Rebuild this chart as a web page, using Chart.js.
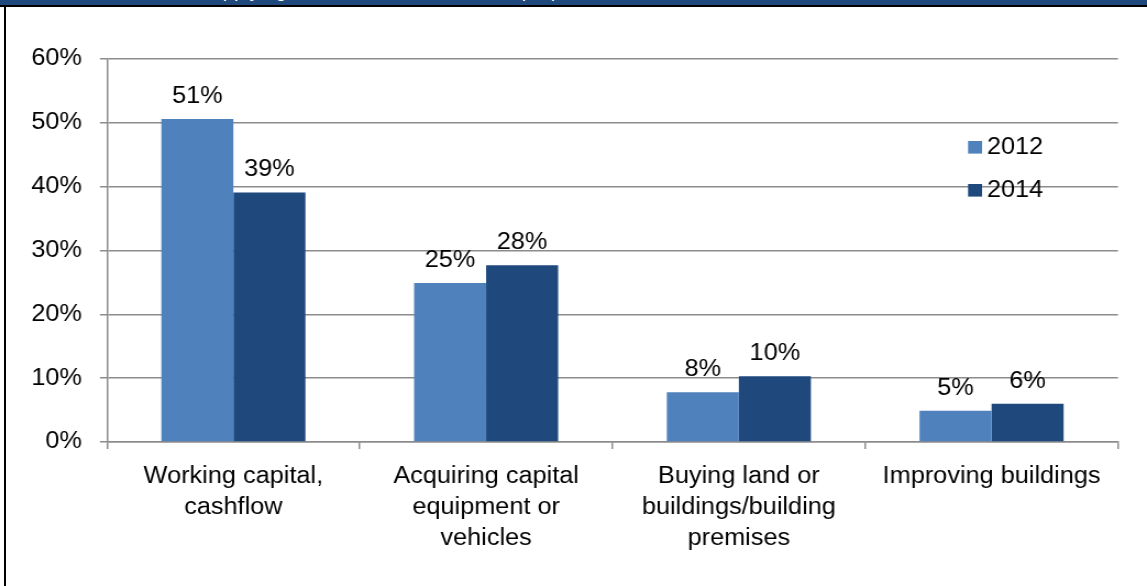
<!DOCTYPE html>
<html lang="en">
<head>
    <meta charset="UTF-8">
    <title>Purpose of finance</title>
    <script src="https://cdn.jsdelivr.net/npm/chart.js"></script>
    <style>
        body {
            margin: 0;
            padding: 0;
            background: #fff;
            width: 1147px;
            height: 586px;
            overflow: hidden;
            position: relative;
            font-family: "Liberation Sans", Arial, sans-serif;
        }

        /* title strip, mostly cut off at the top */
        .banner {
            position: absolute;
            left: 0;
            top: 0;
            width: 1147px;
            height: 5px;
            background: #1f497d;
            overflow: hidden;
            z-index: 2;
        }

        .banner span {
            position: absolute;
            left: 100px;
            top: -20px;
            font-style: italic;
            font-size: 20px;
            line-height: 20px;
            color: #fff;
            white-space: nowrap;
        }

        .rule-top {
            position: absolute;
            left: 0;
            top: 5px;
            width: 1147px;
            height: 2px;
            background: #000;
            z-index: 2;
        }

        .rule-left {
            position: absolute;
            left: 4px;
            top: 5px;
            width: 2px;
            height: 581px;
            background: #000;
            z-index: 2;
        }

        /* chart is drawn a bit narrower and stretched sideways */
        .chart-wrap {
            position: absolute;
            left: 0;
            top: 0;
            width: 1043px;
            height: 586px;
            transform: scaleX(1.0997);
            transform-origin: 0 0;
        }
    </style>
</head>
<body>
    <div class="banner"><span>Reasons for applying for external finance, main purpose of finance</span></div>
    <div class="rule-top"></div>
    <div class="rule-left"></div>

    <div class="chart-wrap">
        <canvas id="financeChart" width="1043" height="586"></canvas>
    </div>

    <script>
        const categories = [
            ['Working capital,', 'cashflow'],
            ['Acquiring capital', 'equipment or', 'vehicles'],
            ['Buying land or', 'buildings/building', 'premises'],
            ['Improving buildings']
        ];
        const seriesNames = ['2012', '2014'];
        const values2012 = [50.6, 24.9, 7.8, 4.9];
        const values2014 = [39.1, 27.7, 10.3, 6.0];
        const yMax = 60;
        const yStep = 10;

        const gridColor = '#8c8c8c';
        const fontFamily = '"Liberation Sans", Arial, sans-serif';
        const textFont = { family: fontFamily, size: 23, lineHeight: '31px' };

        // value labels above every bar
        const barLabels = {
            id: 'barLabels',
            afterDatasetsDraw(chart) {
                const ctx = chart.ctx;
                ctx.save();
                ctx.font = '23px ' + fontFamily;
                ctx.fillStyle = '#000';
                ctx.textAlign = 'center';
                ctx.textBaseline = 'alphabetic';
                chart.data.datasets.forEach((ds, i) => {
                    chart.getDatasetMeta(i).data.forEach((bar, j) => {
                        ctx.fillText(Math.round(ds.data[j]) + '%', bar.x, bar.y - 16);
                    });
                });
                ctx.restore();
            }
        };

        // legend sitting inside the plot, top right
        const innerLegend = {
            id: 'innerLegend',
            afterDraw(chart) {
                const ctx = chart.ctx;
                const area = chart.chartArea;
                const left = area.right - 136.3;
                ctx.save();
                ctx.font = '23px ' + fontFamily;
                ctx.textBaseline = 'middle';
                ctx.textAlign = 'left';
                chart.data.datasets.forEach((ds, i) => {
                    const y = area.top + 88 + i * 43;
                    ctx.fillStyle = ds.backgroundColor;
                    ctx.fillRect(left, y - 6, 12.7, 12.6);
                    ctx.fillStyle = '#000';
                    ctx.fillText(ds.label, left + 17.2, y + 1);
                });
                ctx.restore();
            }
        };

        new Chart(document.getElementById('financeChart'), {
            type: 'bar',
            data: {
                labels: categories,
                datasets: [
                    { label: seriesNames[0], data: values2012, backgroundColor: '#4f81bd' },
                    { label: seriesNames[1], data: values2014, backgroundColor: '#1f497d' }
                ]
            },
            options: {
                responsive: false,
                animation: false,
                devicePixelRatio: 1,
                categoryPercentage: 0.57,
                barPercentage: 1.0,
                layout: { padding: { top: 59, right: 26.4, left: 0, bottom: 0 } },
                plugins: {
                    legend: { display: false },
                    tooltip: { enabled: false }
                },
                scales: {
                    x: {
                        grid: { offset: true, drawOnChartArea: false, drawTicks: true, tickLength: 7, color: gridColor, lineWidth: 1.5 },
                        border: { color: gridColor, width: 1.5 },
                        ticks: { font: textFont, color: '#000', padding: 12, maxRotation: 0, minRotation: 0, autoSkip: false },
                        afterFit(scale) { scale.height = 144; }
                    },
                    y: {
                        min: 0,
                        max: yMax,
                        ticks: { stepSize: yStep, font: textFont, color: '#000', padding: 16.4, callback: v => v + '%' },
                        grid: { color: gridColor, lineWidth: 1.5, tickLength: 6.4 },
                        border: { color: gridColor, width: 1.5 },
                        afterFit(scale) { scale.width = 97.3; }
                    }
                }
            },
            plugins: [barLabels, innerLegend]
        });
    </script>
</body>
</html>
